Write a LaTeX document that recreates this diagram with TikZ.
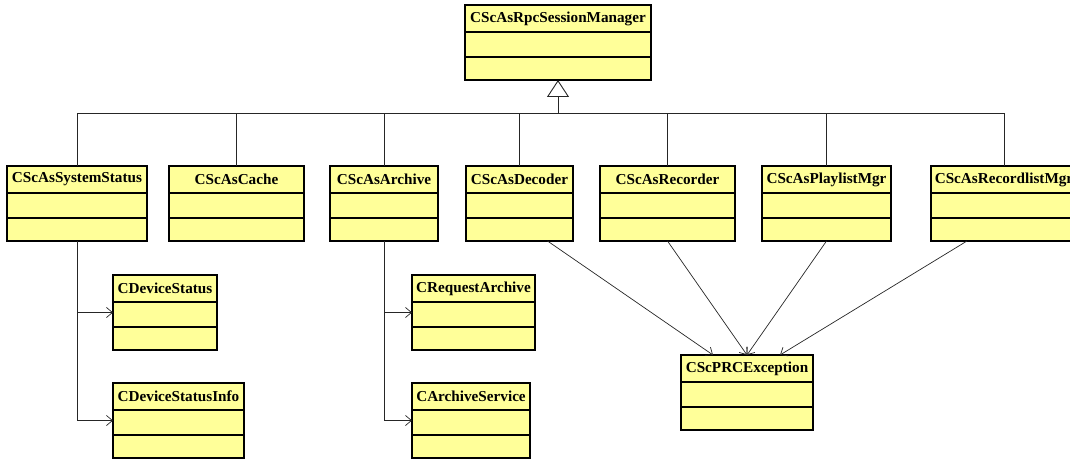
\documentclass[tikz,border=0pt]{standalone}
\usepackage{fontspec}
\setmainfont{Liberation Serif}
\usetikzlibrary{arrows.meta}

\definecolor{classfill}{HTML}{FFFF99}

\tikzset{
  classbox/.style={draw=black, fill=classfill, line width=1.1pt,
    rectangle, inner sep=0pt, outer sep=0pt, anchor=north west,
    minimum height=75pt},
  classtitle/.style={font=\bfseries\fontsize{15.2}{16}\selectfont,
    inner sep=0pt, anchor=center},
  divider/.style={draw=black, line width=1.1pt},
  link/.style={draw=black!85, line width=0.7pt},
  inherit/.style={link, -{Triangle[open, length=17pt, width=22pt, line width=0.9pt]}},
  depend/.style={link, -{Straight Barb[length=6pt, width=10pt, line width=0.7pt]}},
}

% a UML class: name, left x, top y, width, title
\newcommand\umlclass[5]{%
  \node[classbox, minimum width=#4pt] (#1) at (#2,#3) {};
  \node[classtitle] (#1-title) at ([yshift=-13.5pt]#1.north) {#5};
  \draw[divider] ([yshift=-27pt]#1.north west) -- ([yshift=-27pt]#1.north east);
  \draw[divider] ([yshift=-52pt]#1.north west) -- ([yshift=-52pt]#1.north east);
}

\begin{document}
\begin{tikzpicture}[x=1pt, y=-1pt]
  \useasboundingbox (0,0) rectangle (1070,462);
  \clip (0,0) rectangle (1070,462);

  % base class
  \umlclass{mgr}{465}{5}{186}{CScAsRpcSessionManager}

  % derived classes
  \umlclass{sysstatus}{7}{166}{140}{CScAsSystemStatus}
  \umlclass{cache}{169}{166}{135}{CScAsCache}
  \umlclass{archive}{330}{166}{108}{CScAsArchive}
  \umlclass{decoder}{466}{166}{107}{CScAsDecoder}
  \umlclass{recorder}{600}{166}{135}{CScAsRecorder}
  \umlclass{playlist}{762}{166}{129}{CScAsPlaylistMgr}
  \umlclass{recordlist}{931}{166}{146}{CScAsRecordlistMgr}

  % helper classes
  \umlclass{devstatus}{113}{275}{104}{CDeviceStatus}
  \umlclass{devinfo}{113}{383}{131}{CDeviceStatusInfo}
  \umlclass{reqarchive}{412}{275}{123}{CRequestArchive}
  \umlclass{archservice}{412}{383}{118}{CArchiveService}
  \umlclass{exception}{681}{355}{132}{CScPRCException}

  % generalisation tree
  \coordinate (hub) at (558,113);
  \foreach \c in {sysstatus, cache, archive, decoder, recorder, playlist, recordlist}
    \draw[link] (\c.north) |- (hub);
  \draw[inherit] (hub) -- (mgr.south);

  % dependencies
  \draw[depend] (sysstatus.south) |- (devstatus.west);
  \draw[depend] (sysstatus.south) |- (devinfo.west);
  \draw[depend] (archive.south) |- (reqarchive.west);
  \draw[depend] (archive.south) |- (archservice.west);

  \draw[depend] ([xshift=28pt]decoder.south) -- ([xshift=-34pt]exception.north);
  \draw[depend] (recorder.south) -- (exception.north);
  \draw[depend] (playlist.south) -- (exception.north);
  \draw[depend] ([xshift=-37pt]recordlist.south) -- ([xshift=33pt]exception.north);
\end{tikzpicture}
\end{document}
